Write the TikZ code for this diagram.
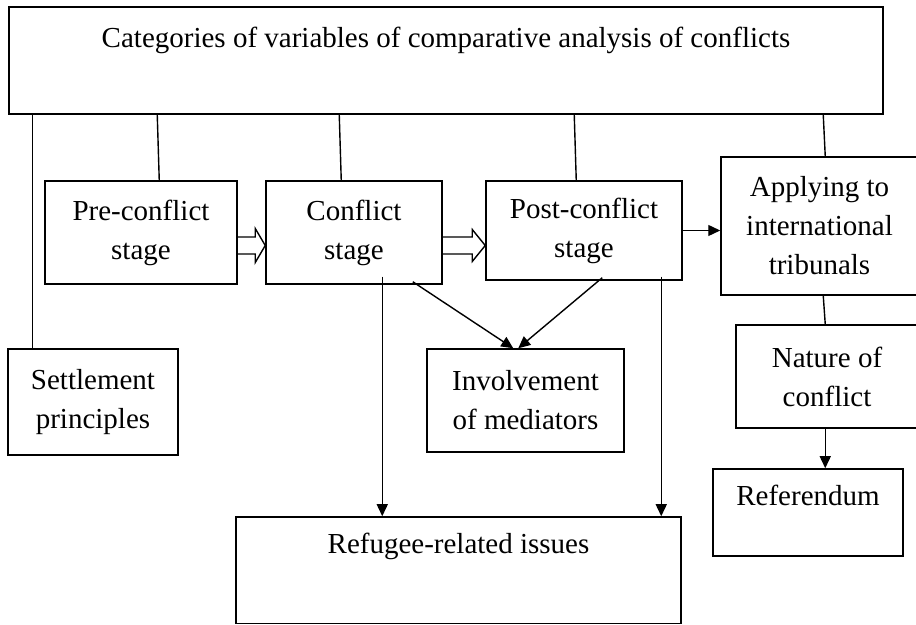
\documentclass[tikz,border=0pt]{standalone}
\usepackage{fontspec}
\setmainfont{Liberation Serif}
\usetikzlibrary{calc,arrows.meta}

\begin{document}
\begin{tikzpicture}[x=0.5pt,y=-0.5pt,
                      box/.style={draw,line width=0.75pt,align=center,inner sep=0pt,font=\fontsize{14.5}{19.5}\selectfont},
                      txt/.style={anchor=base,inner sep=0pt,font=\fontsize{14.5}{19.5}\selectfont},
                      conn/.style={line width=0.7pt},
                      arr/.style={line width=0.7pt,-{Triangle[length=6pt,width=5.5pt]}}]
                      \useasboundingbox (0,0) rectangle (916,625);
                      \clip (0,0) rectangle (916,625);
                      \node[box,minimum width=437pt,minimum height=53.5pt](top)at(446,60.5){};
                      \node[txt](toptxt)at($(top.north)+(0,41)$){Categories of variables of comparative analysis of conflicts};
                      \node[box,minimum width=85pt,minimum height=53pt](settle)at(93,402){Settlement\\principles};
                      \node[box,minimum width=96pt,minimum height=51.5pt](pre)at(141,232.5){Pre-conflict\\stage};
                      \node[box,minimum width=88pt,minimum height=51.5pt](conf)at(354,232.5){Conflict\\stage};
                      \node[box,minimum width=98pt,minimum height=49.5pt](post)at(584,230.5){Post-conflict\\stage};
                      \node[box,minimum width=98.5pt,minimum height=69pt](apply)at(819.5,226){Applying to\\international\\tribunals};
                      \node[box,minimum width=91pt,minimum height=51.5pt](nature)at(827,376.5){Nature of\\conflict};
                      \node[box,minimum width=95pt,minimum height=43.5pt](refer)at(808,512.5){};
                      \node[txt](refertxt)at($(refer.north)+(0,37)$){Referendum};
                      \node[box,minimum width=98.5pt,minimum height=51.5pt](media)at(525.5,400.5){Involvement\\of mediators};
                      \node[box,minimum width=222.5pt,minimum height=53.25pt](refug)at(458.5,570.25){};
                      \node[txt](refugtxt)at($(refug.north)+(0,37)$){Refugee-related issues};
                      \draw[conn] ($(top.south west)+(24,0)$) -- ($(settle.north west)+(25,0)$);
                      \draw[conn] ($(top.south west)+(149,0)$) -- ($(pre.north west)+(115,0)$);
                      \draw[conn] ($(top.south west)+(331,0)$) -- ($(conf.north west)+(76,0)$);
                      \draw[conn] ($(top.south west)+(566,0)$) -- ($(post.north west)+(91,0)$);
                      \draw[conn] ($(top.south west)+(815,0)$) -- ($(apply.north west)+(105,0)$);
                      \draw[conn] ($(apply.south west)+(103,0)$) -- ($(nature.north west)+(90,0)$);
                      \coordinate (n1) at ($(nature.south west)+(90,0)$);
                      \draw[arr] (n1) -- (n1 |- refer.north);
                      \coordinate (p1) at ($(pre.east)+(0,13)$);
                      \coordinate (q1) at (p1 -| conf.west);
                      \draw[conn] ($(p1)+(0,-8.5)$) -- ($(q1)+(-10,-8.5)$) -- ($(q1)+(-10,-17)$) -- (q1) -- ($(q1)+(-10,17)$) -- ($(q1)+(-10,8.5)$) -- ($(p1)+(0,8.5)$);
                      \coordinate (p2) at ($(conf.east)+(0,13)$);
                      \coordinate (q2) at (p2 -| post.west);
                      \draw[conn] ($(p2)+(0,-8.5)$) -- ($(q2)+(-13,-8.5)$) -- ($(q2)+(-13,-16)$) -- (q2) -- ($(q2)+(-13,16)$) -- ($(q2)+(-13,8.5)$) -- ($(p2)+(0,8.5)$);
                      \draw[arr] (post.east) -- (post.east -| apply.west);
                      \coordinate (c1) at ($(conf.south west)+(117,-8)$);
                      \draw[arr] (c1) -- (c1 |- refug.north);
                      \coordinate (c2) at ($(post.south west)+(176,-4)$);
                      \draw[arr] (c2) -- (c2 |- refug.north);
                      \draw[arr] ($(conf.south east)+(-30,-3)$) -- ($(media.north west)+(87,0)$);
                      \draw[arr] ($(post.south west)+(117,-3)$) -- ($(media.north west)+(92,0)$);
                  \end{tikzpicture}
\end{document}
